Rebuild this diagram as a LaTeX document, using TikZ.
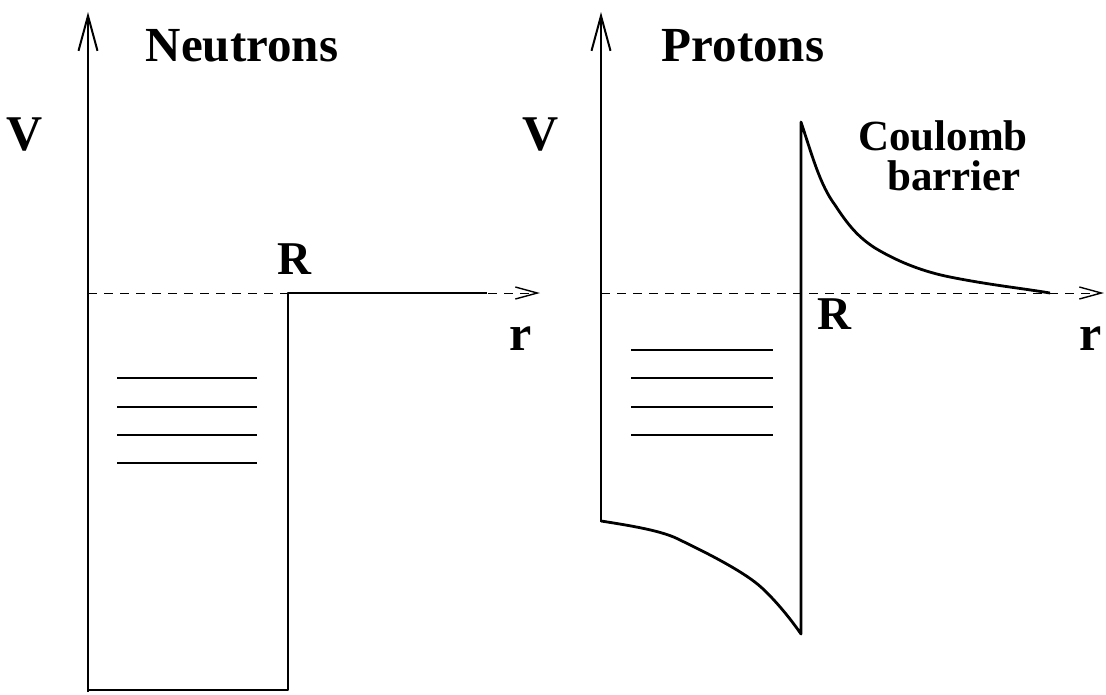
\documentclass[tikz,border=0pt]{standalone}
\usepackage{fontspec}
\setmainfont{Liberation Serif}
\usetikzlibrary{arrows.meta}
\tikzset{
  axis/.style={line width=2pt,-{Straight Barb[length=35pt,width=19pt,line width=2pt]}},
  refline/.style={line width=1pt,dash pattern=on 9pt off 7pt,-{Straight Barb[length=22pt,width=12pt,line width=1.4pt]}},
  well/.style={line width=2.8pt,line join=round},
  level/.style={line width=1.5pt},
  lbl/.style={inner sep=0pt,anchor=base,font=\bfseries\fontsize{#1}{#1}\selectfont},
}
\begin{document}
\begin{tikzpicture}[x=1pt,y=-1pt]
\useasboundingbox (0,0) rectangle (1106,694);
% ---------- Neutrons ----------
\coordinate (nA0) at (88,692);
\coordinate (nA1) at (88,12);
\draw[axis] (nA0) -- (nA1);
\coordinate (nD0) at (88,293);
\coordinate (nD1) at (540,293);
\draw[refline] (nD0) -- (nD1);
\draw[well] (88,690) -- (288,690) -- (288,293) -- (487,293);
\foreach \y in {378,407,435,463} \draw[level] (117,\y) -- (257,\y);
\node[lbl=49] (ntitle) at (242,61) {Neutrons};
\node[lbl=50] (nV) at (25,150) {V};
\node[lbl=47] (nR) at (294,274) {R};
\node[lbl=50] (nr) at (521,350) {r};
% ---------- Protons ----------
\coordinate (pA0) at (601,522);
\coordinate (pA1) at (601,12);
\draw[axis] (pA0) -- (pA1);
\coordinate (pD0) at (601,293);
\coordinate (pD1) at (1104,293);
\draw[refline] (pD0) -- (pD1);
\draw[well] (601,521) .. controls (640,527) and (665,532) .. (680,540)
  .. controls (705,552) and (745,572) .. (762,588)
  .. controls (775,600) and (790,618) .. (801,634)
  -- (801,122)
  .. controls (812,155) and (820,185) .. (835,205)
  .. controls (848,225) and (858,237) .. (875,248)
  .. controls (900,263) and (925,272) .. (950,277)
  .. controls (990,285) and (1020,288) .. (1050,293);
\foreach \y in {350,378,407,435} \draw[level] (631,\y) -- (773,\y);
\node[lbl=49] (ptitle) at (743,61) {Protons};
\node[lbl=50] (pV) at (541,150) {V};
\node[lbl=47] (pR) at (834,329) {R};
\node[lbl=50] (pr) at (1091,350) {r};
\node[lbl=43] (cb1) at (943,150) {Coulomb};
\node[lbl=43] (cb2) at (954,190) {barrier};
\end{tikzpicture}
\end{document}
